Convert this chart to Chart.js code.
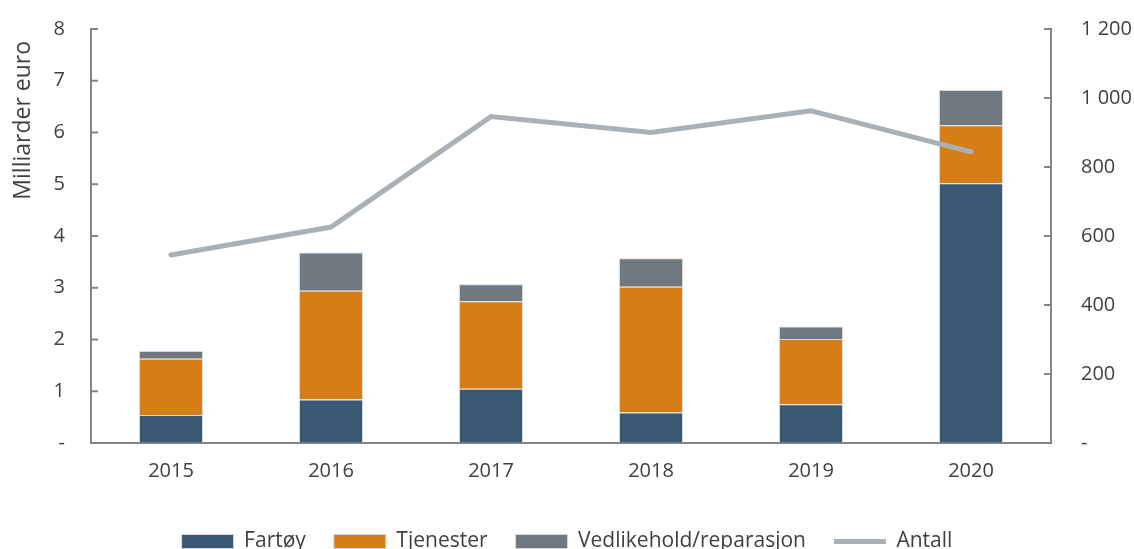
<!DOCTYPE html>
<html>
<head>
<meta charset="utf-8">
<script src="https://cdn.jsdelivr.net/npm/chart.js@4.4.1/dist/chart.umd.min.js"></script>
<style>
  html, body { margin: 0; padding: 0; background: #fff; overflow: hidden; }
  #wrap { width: 1134px; height: 562px; }
</style>
</head>
<body>
<div id="wrap"><canvas id="chart"></canvas></div>
<script>
// data
const years = ['2015', '2016', '2017', '2018', '2019', '2020'];
const fartoy = [0.54, 0.84, 1.05, 0.59, 0.75, 5.02];
const tjenester = [1.09, 2.10, 1.69, 2.43, 1.26, 1.12];
const vedlikehold = [0.15, 0.74, 0.33, 0.55, 0.24, 0.68];
const antall = [545, 626, 946, 900, 963, 844];

const axisColor = '#7f868c';
const textColor = '#404040';

// Excel style ticks pointing into the plot
const innerTicks = {
    id: 'innerTicks',
    afterDatasetsDraw(chart) {
        const ctx = chart.ctx;
        ctx.save();
        ctx.strokeStyle = axisColor;
        ctx.lineWidth = 2;
        ['y', 'y1'].forEach(id => {
            const s = chart.scales[id];
            const x = id === 'y' ? s.right : s.left;
            const dir = id === 'y' ? 1 : -1;
            s.ticks.forEach(t => {
                const py = s.getPixelForValue(t.value);
                ctx.beginPath();
                ctx.moveTo(x, py);
                ctx.lineTo(x + dir * 7, py);
                ctx.stroke();
            });
        });
        ctx.restore();
    }
};

// invisible tick marks only to push the labels away from the axis
const hiddenGrid = len => ({
    display: true,
    drawOnChartArea: false,
    drawTicks: true,
    tickLength: len,
    color: 'transparent',
    tickColor: 'transparent'
});

const barBase = {
    type: 'bar',
    yAxisID: 'y',
    stack: 's',
    borderColor: '#d4d8dc',
    borderWidth: 1,
    barPercentage: 0.4,
    categoryPercentage: 1,
    pointStyle: 'rect'
};

new Chart(document.getElementById('chart'), {
    data: {
        labels: years,
        datasets: [
            Object.assign({}, barBase, { label: 'Fartøy', data: fartoy, backgroundColor: '#3a5773' }),
            Object.assign({}, barBase, { label: 'Tjenester', data: tjenester, backgroundColor: '#d67d16' }),
            Object.assign({}, barBase, { label: 'Vedlikehold/reparasjon', data: vedlikehold, backgroundColor: '#717980' }),
            {
                type: 'line',
                label: 'Antall',
                data: antall,
                yAxisID: 'y1',
                order: -1,
                borderColor: '#a9b1b7',
                backgroundColor: '#a9b1b7',
                borderWidth: 5,
                borderCapStyle: 'round',
                pointRadius: 0,
                tension: 0,
                pointStyle: 'line'
            }
        ]
    },
    options: {
        responsive: true,
        maintainAspectRatio: false,
        animation: false,
        layout: { padding: { top: 29, left: 0, right: 0, bottom: 0 } },
        plugins: {
            tooltip: { enabled: false },
            legend: {
                position: 'bottom',
                labels: {
                    usePointStyle: true,
                    pointStyleWidth: 52,
                    boxHeight: 14,
                    padding: 28,
                    color: textColor,
                    font: { family: 'Open Sans', size: 21 },
                    sort: (a, b) => a.datasetIndex - b.datasetIndex
                }
            }
        },
        scales: {
            x: {
                grid: { display: false, drawTicks: false },
                border: { color: axisColor, width: 2 },
                ticks: { color: textColor, padding: 16, font: { family: 'Open Sans', size: 20 } },
                afterFit: s => { s.height = 60; }
            },
            y: {
                position: 'left',
                min: 0,
                max: 8,
                grid: hiddenGrid(22),
                border: { color: axisColor, width: 2 },
                ticks: {
                    stepSize: 1,
                    padding: 4,
                    color: textColor,
                    font: { family: 'Open Sans', size: 20 },
                    callback: v => v === 0 ? '-' : v
                },
                title: {
                    display: true,
                    text: 'Milliarder euro  ',
                    align: 'end',
                    color: textColor,
                    padding: { top: 10, bottom: 0 },
                    font: { family: 'Open Sans', size: 23 }
                },
                afterFit: s => { s.width = 91; }
            },
            y1: {
                position: 'right',
                min: 0,
                max: 1200,
                grid: hiddenGrid(26),
                border: { color: axisColor, width: 2 },
                ticks: {
                    stepSize: 200,
                    padding: 4,
                    color: textColor,
                    font: { family: 'Open Sans', size: 20 },
                    callback: v => v === 0 ? '-' : String(v).replace(/\B(?=(\d{3})+(?!\d))/g, ' ')
                },
                afterFit: s => { s.width = 83; }
            }
        }
    },
    plugins: [innerTicks]
});
</script>
</body>
</html>
